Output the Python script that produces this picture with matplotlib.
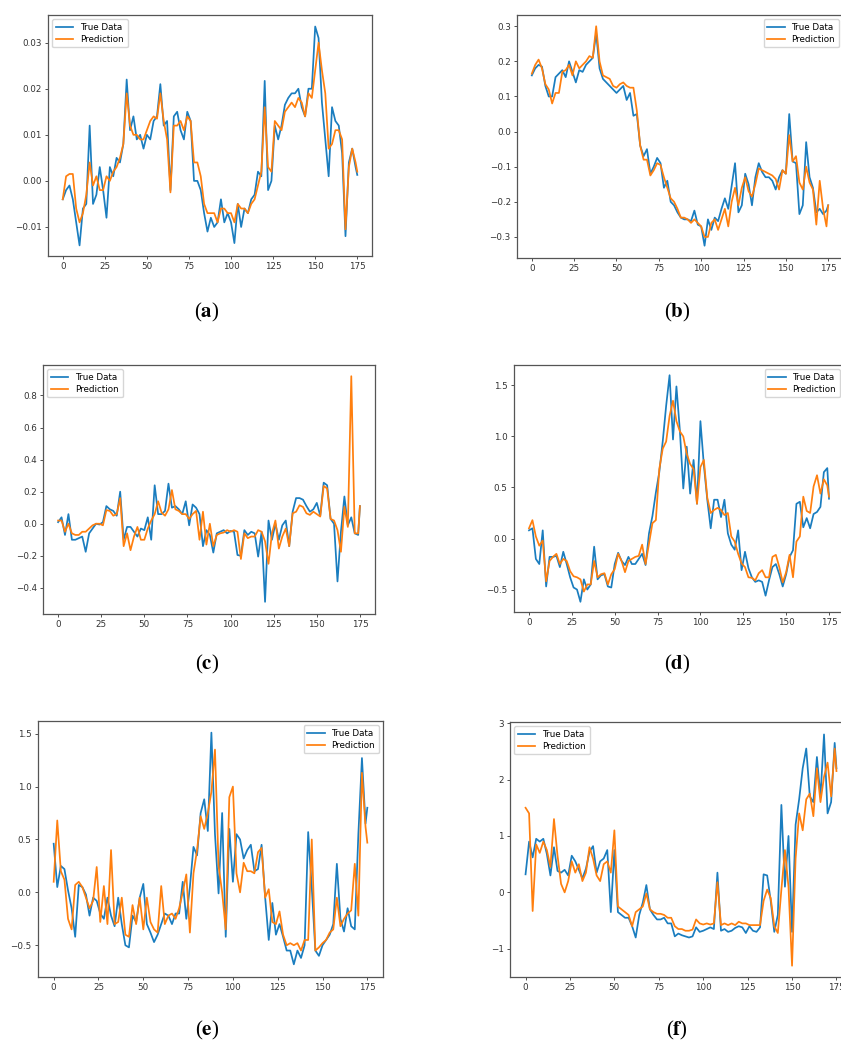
import numpy as np
import matplotlib
matplotlib.use("Agg")
import matplotlib.pyplot as plt

# sample index (every second step, plus the last one)
t = np.append(np.arange(0, 176, 2), 175)

a_true = [-0.004, -0.002, -0.001, -0.004, -0.009, -0.014, -0.006, -0.005, 0.012, -0.005,
          -0.003, 0.003, -0.002, -0.008, 0.003, 0.001, 0.005, 0.004, 0.008, 0.022,
          0.011, 0.014, 0.009, 0.010, 0.007, 0.010, 0.009, 0.013, 0.014, 0.021,
          0.012, 0.013, -0.002, 0.014, 0.015, 0.011, 0.009, 0.015, 0.013, 0.000,
          0.000, -0.002, -0.007, -0.011, -0.008, -0.010, -0.009, -0.004, -0.009, -0.007,
          -0.009, -0.0135, -0.005, -0.010, -0.006, -0.007, -0.004, -0.003, 0.002, 0.001,
          0.0217, -0.002, 0.000, 0.012, 0.009, 0.012, 0.0165, 0.018, 0.019, 0.019,
          0.020, 0.016, 0.014, 0.020, 0.020, 0.0335, 0.031, 0.017, 0.009, 0.001,
          0.016, 0.013, 0.012, 0.006, -0.012, 0.004, 0.007, 0.003,
          0.0013]
a_pred = [-0.004, 0.001, 0.0015, 0.0015, -0.006, -0.009, -0.007, -0.003, 0.004, -0.001,
          0.001, -0.002, -0.002, 0.001, 0.000, 0.002, 0.003, 0.005, 0.008, 0.019,
          0.012, 0.010, 0.010, 0.009, 0.009, 0.011, 0.013, 0.014, 0.0135, 0.019,
          0.013, 0.009, -0.0025, 0.012, 0.012, 0.013, 0.011, 0.014, 0.013, 0.004,
          0.004, 0.001, -0.005, -0.007, -0.007, -0.007, -0.009, -0.006, -0.006, -0.007,
          -0.007, -0.009, -0.005, -0.006, -0.006, -0.007, -0.005, -0.004, -0.001, 0.002,
          0.016, 0.003, 0.002, 0.013, 0.012, 0.011, 0.015, 0.016, 0.017, 0.016,
          0.018, 0.017, 0.014, 0.019, 0.018, 0.024, 0.030, 0.024, 0.019, 0.007,
          0.008, 0.011, 0.011, 0.009, -0.0105, 0.003, 0.007, 0.004,
          0.002]

b_true = [0.16, 0.18, 0.19, 0.185, 0.13, 0.10, 0.10, 0.155, 0.165, 0.175,
          0.155, 0.20, 0.17, 0.14, 0.175, 0.17, 0.19, 0.20, 0.21, 0.28,
          0.18, 0.15, 0.14, 0.13, 0.12, 0.11, 0.12, 0.13, 0.09, 0.11,
          0.045, 0.05, -0.04, -0.07, -0.05, -0.12, -0.10, -0.075, -0.09, -0.16,
          -0.14, -0.20, -0.21, -0.23, -0.245, -0.25, -0.25, -0.255, -0.225, -0.265,
          -0.27, -0.325, -0.25, -0.28, -0.245, -0.255, -0.22, -0.19, -0.22, -0.155,
          -0.09, -0.23, -0.21, -0.12, -0.15, -0.21, -0.13, -0.09, -0.115, -0.13,
          -0.13, -0.14, -0.165, -0.13, -0.11, -0.12, 0.05, -0.085, -0.09, -0.235,
          -0.21, -0.03, -0.13, -0.16, -0.23, -0.22, -0.235, -0.225,
          -0.21]
b_pred = [0.165, 0.19, 0.205, 0.18, 0.135, 0.12, 0.08, 0.11, 0.11, 0.17,
          0.175, 0.19, 0.16, 0.20, 0.18, 0.19, 0.20, 0.215, 0.21, 0.30,
          0.20, 0.16, 0.155, 0.15, 0.13, 0.125, 0.135, 0.14, 0.13, 0.125,
          0.125, 0.06, -0.04, -0.08, -0.08, -0.125, -0.11, -0.09, -0.095, -0.13,
          -0.16, -0.19, -0.20, -0.22, -0.245, -0.245, -0.25, -0.26, -0.25, -0.26,
          -0.27, -0.30, -0.30, -0.26, -0.25, -0.28, -0.25, -0.22, -0.27, -0.20,
          -0.16, -0.21, -0.16, -0.13, -0.17, -0.185, -0.15, -0.105, -0.11, -0.115,
          -0.12, -0.125, -0.135, -0.165, -0.11, -0.12, -0.01, -0.085, -0.07, -0.145,
          -0.165, -0.10, -0.145, -0.165, -0.265, -0.14, -0.22, -0.27,
          -0.21]

c_true = [0.01, 0.04, -0.07, 0.06, -0.10, -0.10, -0.09, -0.08, -0.175, -0.06,
          -0.03, 0.00, -0.005, 0.01, 0.11, 0.09, 0.08, 0.05, 0.20, -0.10,
          -0.02, -0.02, -0.05, -0.08, -0.03, -0.04, 0.04, -0.10, 0.24, 0.06,
          0.06, 0.08, 0.25, 0.10, 0.11, 0.09, 0.06, 0.14, -0.01, 0.12,
          0.10, 0.06, -0.14, -0.04, -0.07, -0.18, -0.06, -0.05, -0.04, -0.06,
          -0.045, -0.05, -0.195, -0.20, -0.04, -0.07, -0.05, -0.06, -0.205, -0.05,
          -0.487, 0.02, -0.10, 0.00, -0.10, -0.01, 0.02, -0.14, 0.075, 0.16,
          0.16, 0.15, 0.11, 0.075, 0.09, 0.13, 0.05, 0.256, 0.24, 0.03,
          0.00, -0.36, -0.05, 0.17, -0.01, 0.04, -0.06, -0.07,
          0.11]
c_pred = [0.02, 0.02, -0.05, 0.00, -0.06, -0.07, -0.07, -0.05, -0.05, -0.03,
          -0.01, 0.00, 0.00, -0.01, 0.085, 0.08, 0.05, 0.06, 0.16, -0.14,
          -0.06, -0.165, -0.08, -0.02, -0.10, -0.10, -0.03, 0.02, 0.06, 0.14,
          0.07, 0.05, 0.09, 0.21, 0.09, 0.08, 0.06, 0.06, 0.03, 0.06,
          0.08, -0.10, 0.075, -0.13, 0.00, -0.14, -0.07, -0.06, -0.055, -0.04,
          -0.05, -0.04, -0.05, -0.22, -0.06, -0.09, -0.08, -0.08, -0.04, -0.05,
          -0.11, -0.25, -0.06, 0.02, -0.155, -0.08, -0.03, -0.14, 0.065, 0.075,
          0.115, 0.105, 0.065, 0.055, 0.075, 0.06, 0.045, 0.235, 0.22, 0.03,
          0.02, -0.04, -0.175, 0.105, -0.02, 0.92, -0.06, -0.06,
          0.11]

d_true = [0.08, 0.10, -0.20, -0.25, 0.08, -0.47, -0.18, -0.18, -0.17, -0.28,
          -0.13, -0.25, -0.38, -0.48, -0.50, -0.62, -0.40, -0.50, -0.45, -0.08,
          -0.40, -0.36, -0.35, -0.47, -0.48, -0.25, -0.14, -0.22, -0.26, -0.18,
          -0.25, -0.25, -0.20, -0.15, -0.26, 0.05, 0.22, 0.45, 0.65, 0.95,
          1.30, 1.60, 0.97, 1.49, 1.06, 0.49, 0.90, 0.44, 0.77, 0.34,
          1.15, 0.72, 0.38, 0.10, 0.38, 0.38, 0.21, 0.38, 0.05, -0.06,
          -0.11, 0.08, -0.31, -0.13, -0.29, -0.38, -0.425, -0.41, -0.425, -0.56,
          -0.41, -0.28, -0.25, -0.35, -0.47, -0.35, -0.18, -0.115, 0.34, 0.36,
          0.11, 0.20, 0.10, 0.24, 0.26, 0.31, 0.65, 0.69,
          0.39]
d_pred = [0.10, 0.18, 0.02, -0.07, -0.02, -0.42, -0.22, -0.18, -0.15, -0.25,
          -0.20, -0.22, -0.32, -0.37, -0.38, -0.40, -0.52, -0.45, -0.45, -0.22,
          -0.38, -0.35, -0.34, -0.45, -0.35, -0.30, -0.15, -0.22, -0.33, -0.22,
          -0.20, -0.18, -0.17, -0.06, -0.25, -0.05, 0.15, 0.18, 0.68, 0.88,
          0.95, 1.20, 1.35, 1.15, 1.05, 1.00, 0.83, 0.73, 0.68, 0.34,
          0.70, 0.77, 0.40, 0.25, 0.28, 0.30, 0.28, 0.23, 0.25, 0.02,
          -0.03, -0.15, -0.245, -0.28, -0.38, -0.385, -0.41, -0.34, -0.31, -0.38,
          -0.38, -0.18, -0.16, -0.28, -0.43, -0.33, -0.16, -0.38, -0.03, 0.02,
          0.41, 0.27, 0.25, 0.51, 0.62, 0.44, 0.58, 0.52,
          0.41]

e_true = [0.46, 0.05, 0.25, 0.22, 0.02, -0.15, -0.42, 0.07, 0.05, -0.02,
          -0.22, -0.05, -0.08, -0.20, -0.25, -0.05, -0.22, -0.32, -0.05, -0.30,
          -0.50, -0.52, -0.22, -0.28, -0.05, 0.08, -0.30, -0.38, -0.47, -0.40,
          -0.30, -0.20, -0.22, -0.30, -0.20, -0.20, 0.10, -0.25, 0.05, 0.43,
          0.35, 0.75, 0.88, 0.58, 1.51, 0.55, -0.01, 0.75, -0.42, 0.60,
          0.10, 0.55, 0.50, 0.32, 0.40, 0.45, 0.20, 0.22, 0.45, -0.05,
          -0.45, -0.10, -0.40, -0.30, -0.42, -0.55, -0.55, -0.68, -0.55, -0.62,
          -0.50, 0.57, 0.05, -0.55, -0.60, -0.50, -0.45, -0.40, -0.30, 0.27,
          -0.25, -0.37, -0.15, -0.32, -0.35, 0.55, 1.27, 0.65,
          0.80]
e_pred = [0.10, 0.68, 0.20, 0.12, -0.25, -0.35, 0.07, 0.10, 0.05, -0.05,
          -0.15, -0.08, 0.24, -0.28, 0.06, -0.30, 0.40, -0.30, -0.28, -0.05,
          -0.40, -0.42, -0.12, -0.30, -0.05, -0.35, -0.05, -0.28, -0.35, -0.38,
          0.06, -0.30, -0.22, -0.20, -0.25, -0.15, 0.00, 0.17, -0.38, 0.18,
          0.40, 0.72, 0.60, 0.75, 0.95, 1.35, 0.25, 0.00, -0.35, 0.90,
          1.00, 0.18, 0.00, 0.28, 0.20, 0.20, 0.18, 0.38, 0.42, -0.05,
          0.03, -0.28, -0.30, -0.18, -0.40, -0.50, -0.48, -0.50, -0.48, -0.55,
          -0.45, -0.45, 0.50, -0.55, -0.52, -0.48, -0.45, -0.38, -0.35, -0.05,
          -0.32, -0.25, -0.20, -0.17, 0.27, -0.22, 1.13, 0.62,
          0.47]

f_true = [0.32, 0.90, 0.62, 0.95, 0.90, 0.95, 0.68, 0.30, 0.80, 0.38,
          0.35, 0.40, 0.30, 0.65, 0.55, 0.40, 0.25, 0.42, 0.72, 0.82,
          0.35, 0.55, 0.60, 0.75, -0.35, 0.75, -0.35, -0.40, -0.45, -0.45,
          -0.60, -0.80, -0.40, -0.18, 0.13, -0.30, -0.40, -0.48, -0.48, -0.45,
          -0.55, -0.55, -0.78, -0.73, -0.76, -0.78, -0.80, -0.78, -0.62, -0.70,
          -0.68, -0.65, -0.62, -0.65, 0.35, -0.68, -0.65, -0.70, -0.68, -0.63,
          -0.60, -0.62, -0.72, -0.60, -0.68, -0.70, -0.62, 0.32, 0.30, -0.15,
          -0.70, -0.40, 1.55, 0.10, 1.00, -0.70, 1.20, 1.65, 2.20, 2.55,
          1.70, 1.60, 2.40, 1.70, 2.80, 1.40, 1.60, 2.65,
          2.20]
f_pred = [1.50, 1.40, -0.33, 0.85, 0.70, 0.90, 0.75, 0.45, 1.30, 0.65,
          0.15, 0.00, 0.20, 0.55, 0.35, 0.50, 0.20, 0.35, 0.80, 0.60,
          0.30, 0.20, 0.50, 0.55, 0.35, 1.10, -0.25, -0.30, -0.35, -0.40,
          -0.60, -0.35, -0.30, -0.25, -0.02, -0.30, -0.35, -0.38, -0.38, -0.40,
          -0.45, -0.45, -0.60, -0.65, -0.65, -0.68, -0.68, -0.66, -0.48, -0.55,
          -0.57, -0.55, -0.57, -0.55, 0.18, -0.58, -0.55, -0.58, -0.55, -0.58,
          -0.52, -0.55, -0.55, -0.58, -0.58, -0.58, -0.58, -0.15, 0.05, -0.10,
          -0.60, -0.72, 0.05, 0.75, 0.10, -1.30, 0.60, 1.40, 1.10, 1.65,
          1.75, 1.35, 2.20, 1.60, 2.05, 2.30, 1.70, 2.55,
          2.15]

x_ticks = [0, 25, 50, 75, 100, 125, 150, 175]
a_yticks = [-0.01, 0.00, 0.01, 0.02, 0.03]
b_yticks = [-0.3, -0.2, -0.1, 0.0, 0.1, 0.2, 0.3]
c_yticks = [-0.4, -0.2, 0.0, 0.2, 0.4, 0.6, 0.8]
d_yticks = [-0.5, 0.0, 0.5, 1.0, 1.5]
e_yticks = [-0.5, 0.0, 0.5, 1.0, 1.5]
f_yticks = [-1, 0, 1, 2, 3]
letters = ["a", "b", "c", "d", "e", "f"]

W, H = 841, 1046


def main():
    plt.rcParams["mathtext.fontset"] = "stix"
    fig = plt.figure(figsize=(W / 100, H / 100), dpi=100)

    # (series, yticks, ylim, legend loc, axes box in px l/r/t/b, label centre px)
    panels = [
        (a_true, a_pred, a_yticks, (-0.0163, 0.036), "upper left",
         (48, 372, 15, 256), (207, 312)),
        (b_true, b_pred, b_yticks, (-0.36, 0.332), "upper right",
         (517, 843, 15, 258), (677, 312)),
        (c_true, c_pred, c_yticks, (-0.563, 0.99), "upper left",
         (43, 375, 365, 614), (207, 664)),
        (d_true, d_pred, d_yticks, (-0.72, 1.70), "upper right",
         (514, 844, 365, 612), (677, 664)),
        (e_true, e_pred, e_yticks, (-0.80, 1.62), "upper right",
         (38, 383, 721, 977), (207, 1030)),
        (f_true, f_pred, f_yticks, (-1.50, 3.02), "upper left",
         (510, 852, 722, 977), (677, 1030)),
    ]

    for i, (yt, yp, yticks, ylim, loc, box, lab) in enumerate(panels):
        l, r, top, b = box
        ax = fig.add_axes([l / W, 1 - b / H, (r - l) / W, (b - top) / H])
        ax.plot(t, yt, color="#1a7dbf", lw=1.25, label="True Data")
        ax.plot(t, yp, color="#ff7f0e", lw=1.25, label="Prediction")
        ax.set_xticks(x_ticks)
        ax.set_xlim(-8.75, 183.75)
        ax.set_yticks(yticks)
        ax.set_ylim(*ylim)
        ax.tick_params(labelsize=6.3, length=2.5, width=0.6, pad=2,
                       colors="#333333")
        for s in ax.spines.values():
            s.set_linewidth(0.9)
            s.set_color("#555555")
        ax.legend(loc=loc, fontsize=6.3, handlelength=2.0, borderpad=0.4,
                  labelspacing=0.35)
        fig.text(lab[0] / W, 1 - lab[1] / H,
                 r"($\mathbf{" + letters[i] + "}$)",
                 ha="center", va="center", fontsize=15,
                 family="Liberation Serif")

    fig.savefig("out.png", dpi=100)


if __name__ == "__main__":
    main()
